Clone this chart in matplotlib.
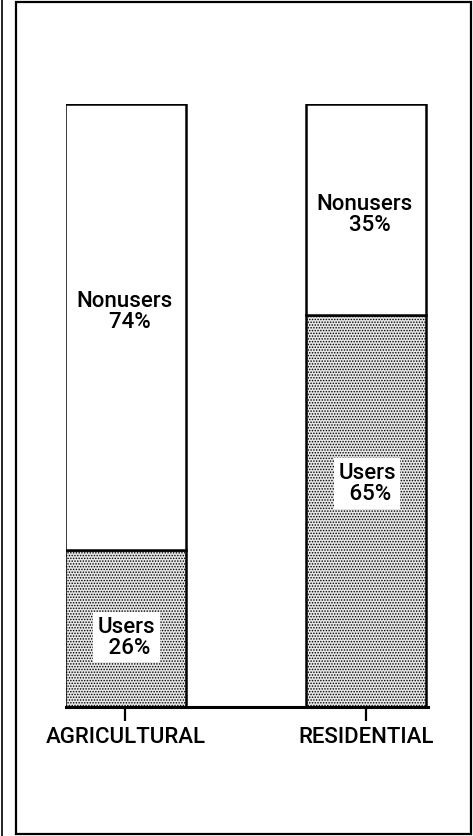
import matplotlib.pyplot as plt
from matplotlib.patches import Rectangle
from matplotlib.lines import Line2D

plt.rcParams['font.family'] = ['Roboto', 'DejaVu Sans']
plt.rcParams['hatch.linewidth'] = 0.7

categories = ["AGRICULTURAL", "RESIDENTIAL"]
users = [26, 65]
nonusers = [74, 35]

W, H = 473, 837
fig = plt.figure(figsize=(W / 100, H / 100), dpi=100)

# outer frame and the edge of the neighbouring panel
fig.patches.append(Rectangle((16 / W, 2 / H), 455 / W, 832 / H, transform=fig.transFigure,
                             fill=False, lw=1.6, ec='black'))
fig.lines.append(Line2D([1.5 / W, 1.5 / W], [0, 1], transform=fig.transFigure, lw=1.2, color='black'))

ax = fig.add_axes([66 / W, (H - 708) / H, 362 / W, 603 / H])
x = [0, 1]
ax.bar(x, users, width=0.5, color='#e6e6e6', edgecolor='black', lw=1.8, hatch='......', zorder=2)
ax.bar(x, nonusers, bottom=users, width=0.5, color='white', edgecolor='black', lw=1.8, zorder=2)

# label nudges (data units) to sit where the original put them
users_dy = [-1.4, 4.6]
nonusers_dy = [2.7, -0.7]
txt = dict(ha='center', va='center', fontsize=16, fontweight='medium', linespacing=1.0, zorder=3)
for i in range(len(categories)):
    ax.text(x[i] + 0.005, users[i] / 2 + users_dy[i], "Users\n %d%%" % users[i],
            bbox=dict(boxstyle='square,pad=0.2', fc='white', ec='none'), **txt)
    ax.text(x[i] - 0.005, users[i] + nonusers[i] / 2 + nonusers_dy[i],
            "Nonusers\n  %d%%" % nonusers[i], **txt)

ax.set_xlim(-0.247, 1.258)
ax.set_ylim(0, 100)
ax.set_xticks(x)
ax.set_xticklabels(categories, fontsize=16, fontweight='medium')
ax.tick_params(axis='x', length=10, width=1.6, pad=4)
ax.set_yticks([])
for s in ['top', 'left', 'right']:
    ax.spines[s].set_visible(False)
ax.spines['bottom'].set_linewidth(2.2)
ax.patch.set_alpha(0)

fig.savefig('out.png', dpi=100)
